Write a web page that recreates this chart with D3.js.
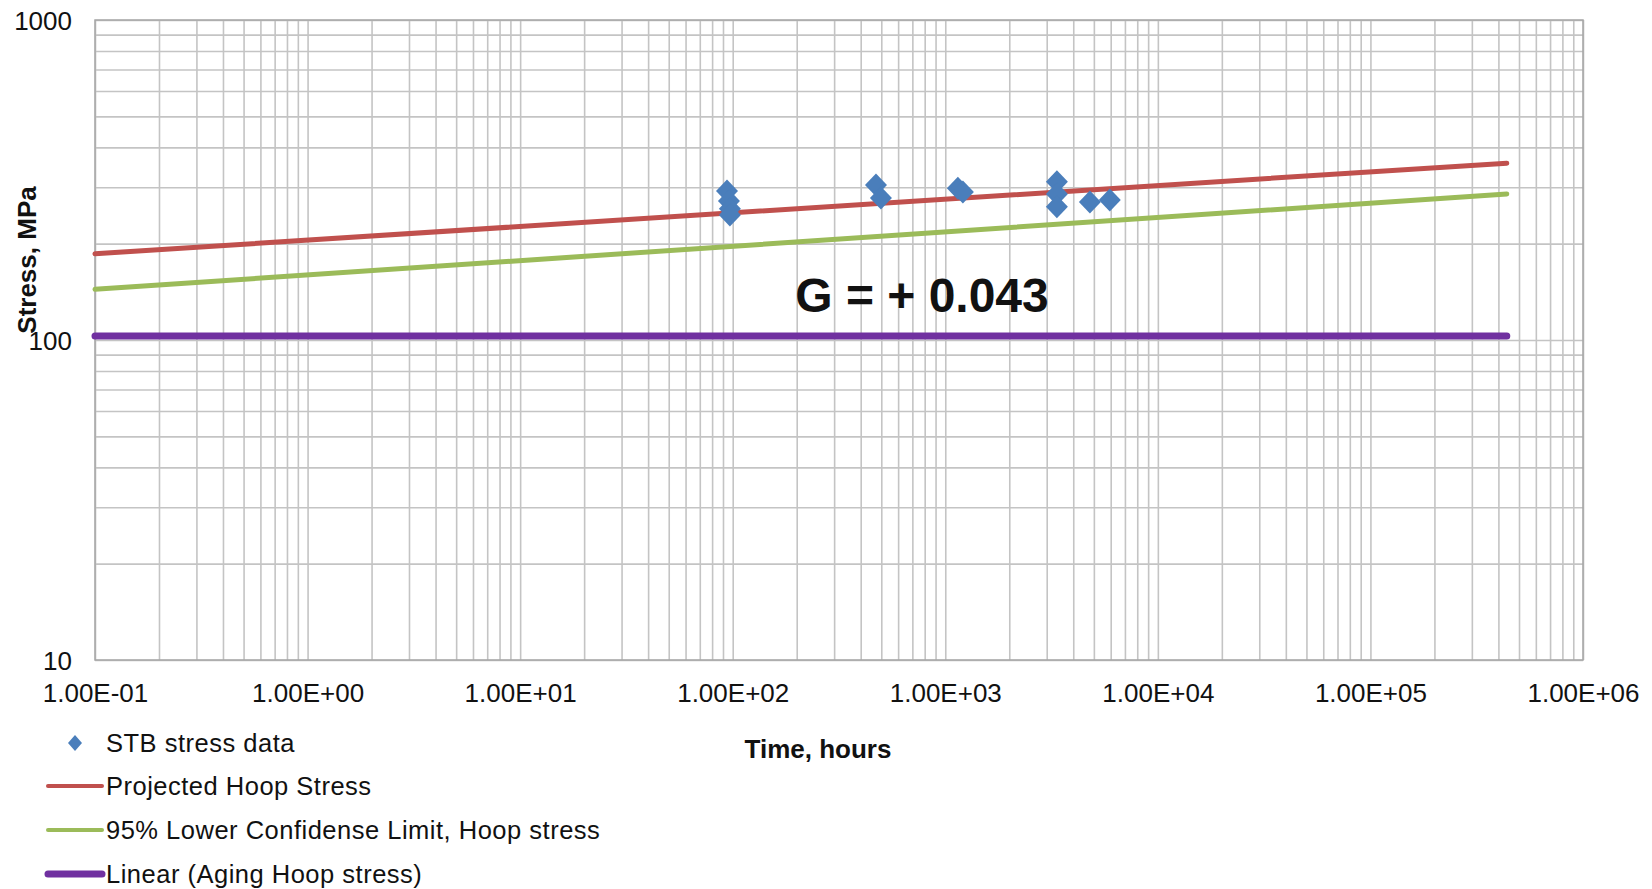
<!DOCTYPE html>
<html>
<head>
<meta charset="utf-8">
<script src="https://cdn.jsdelivr.net/npm/d3@7"></script>
<style>
  body { margin: 0; background: #fff; }
  text { font-family: "Liberation Sans", Arial, sans-serif; fill: #111; }
</style>
</head>
<body>
<div id="chart"></div>
<script>
// STB stress data (time in hours, stress in MPa)
const stbTime   = [94, 96, 97, 97, 472, 498, 1146, 1210, 3350, 3350, 3350, 4790, 5940];
const stbStress = [292, 272, 257, 246, 305, 278, 298, 290, 312, 286, 261, 270, 274];

// regression lines (start and end of each line)
const lineTime        = [0.1, 438000];
const projectedHoop   = [186, 357];
const lowerConfidence = [144, 286];
const agingHoop       = [103, 103];

const xTickValues = [1e-1, 1e0, 1e1, 1e2, 1e3, 1e4, 1e5, 1e6];
const yTickValues = [10, 100, 1000];
const legendLabels = [
  "STB stress data",
  "Projected Hoop Stress",
  "95% Lower Confidense Limit, Hoop stress",
  "Linear (Aging Hoop stress)"
];

const width = 1652, height = 889;
const margin = { top: 20, right: 69, bottom: 229, left: 95 };
const plotW = width - margin.left - margin.right;
const plotH = height - margin.top - margin.bottom;

const svg = d3.select("#chart").append("svg")
  .attr("width", width)
  .attr("height", height);

svg.append("rect").attr("width", width).attr("height", height).attr("fill", "#fff");

const x = d3.scaleLog().domain([1e-1, 1e6]).range([0, plotW]);
const y = d3.scaleLog().domain([10, 1000]).range([plotH, 0]);

const g = svg.append("g").attr("transform", `translate(${margin.left},${margin.top})`);

// minor + major grid values
const xGrid = [];
for (let e = -1; e < 6; e++) for (let m = 1; m <= 9; m++) xGrid.push(m * Math.pow(10, e));
xGrid.push(1e6);
const yGrid = [];
for (let e = 1; e < 3; e++) for (let m = 1; m <= 9; m++) yGrid.push(m * Math.pow(10, e));
yGrid.push(1000);

const gridColor = "#c4c4c4";

g.append("g")
  .attr("class", "grid-x")
  .call(d3.axisBottom(x).tickValues(xGrid).tickSize(-plotH).tickFormat(""))
  .attr("transform", `translate(0,${plotH})`)
  .call(a => a.select(".domain").remove())
  .selectAll("line").attr("stroke", gridColor).attr("stroke-width", 1.6);

g.append("g")
  .attr("class", "grid-y")
  .call(d3.axisLeft(y).tickValues(yGrid).tickSize(-plotW).tickFormat(""))
  .call(a => a.select(".domain").remove())
  .selectAll("line").attr("stroke", gridColor).attr("stroke-width", 1.6);

g.append("rect")
  .attr("width", plotW).attr("height", plotH)
  .attr("fill", "none").attr("stroke", "#a6a6a6").attr("stroke-width", 1.5);

// tick labels
const fmtExp = v => {
  const e = Math.round(Math.log10(v));
  const sign = e < 0 ? "-" : "+";
  return "1.00E" + sign + String(Math.abs(e)).padStart(2, "0");
};

g.append("g")
  .attr("transform", `translate(0,${plotH})`)
  .call(d3.axisBottom(x).tickValues(xTickValues).tickSize(0).tickPadding(0).tickFormat(fmtExp))
  .call(a => a.select(".domain").remove())
  .selectAll("text")
  .attr("dy", null)
  .attr("y", 42)
  .attr("font-size", 26)
  .attr("font-family", "'Liberation Sans', Arial, sans-serif")
  .attr("fill", "#111");

g.append("g")
  .call(d3.axisLeft(y).tickValues(yTickValues).tickSize(0).tickPadding(0).tickFormat(d3.format("d")))
  .call(a => a.select(".domain").remove())
  .selectAll("text")
  .attr("x", -23)
  .attr("dy", "0.35em")
  .attr("font-size", 26)
  .attr("font-family", "'Liberation Sans', Arial, sans-serif")
  .attr("fill", "#111");

// axis titles
svg.append("text")
  .attr("x", 818).attr("y", 758)
  .attr("text-anchor", "middle")
  .attr("font-size", 26).attr("font-weight", "bold")
  .text("Time, hours");

svg.append("text")
  .attr("transform", "translate(36,260) rotate(-90)")
  .attr("text-anchor", "middle")
  .attr("font-size", 26).attr("font-weight", "bold")
  .text("Stress, MPa");

// lines
const line = d3.line().x(d => x(d[0])).y(d => y(d[1]));
const series = [
  { values: projectedHoop, color: "#c0504d", w: 5 },
  { values: lowerConfidence, color: "#9bbb59", w: 5 },
  { values: agingHoop, color: "#7030a0", w: 7 }
];

g.selectAll(".series")
  .data(series)
  .enter()
  .append("path")
  .attr("class", "series")
  .attr("d", d => line(lineTime.map((t, i) => [t, d.values[i]])))
  .attr("fill", "none")
  .attr("stroke", d => d.color)
  .attr("stroke-width", d => d.w)
  .attr("stroke-linecap", "round");

// diamond markers
const diamond = (rx, ry) => `M0,${-ry}L${rx},0L0,${ry}L${-rx},0Z`;

g.selectAll(".stb")
  .data(stbTime.map((t, i) => ({ t, s: stbStress[i] })))
  .enter()
  .append("path")
  .attr("class", "stb")
  .attr("transform", d => `translate(${x(d.t)},${y(d.s)})`)
  .attr("d", diamond(11, 11.5))
  .attr("fill", "#4a7ebb");

// annotation
svg.append("text")
  .attr("x", 922).attr("y", 312)
  .attr("text-anchor", "middle")
  .attr("font-size", 48).attr("font-weight", "bold")
  .attr("fill", "#000")
  .text("G = + 0.043");

// legend
const legend = svg.append("g").attr("class", "legend");
const legendY = [743, 786, 830, 874];

legendLabels.forEach((label, i) => {
  const row = legend.append("g").attr("transform", `translate(0,${legendY[i]})`);
  if (i === 0) {
    row.append("path")
      .attr("transform", "translate(75,0)")
      .attr("d", diamond(7, 8))
      .attr("fill", "#4a7ebb");
  } else {
    const s = series[i - 1];
    row.append("line")
      .attr("x1", 48).attr("x2", 102)
      .attr("stroke", s.color)
      .attr("stroke-width", i === 3 ? 7 : 4)
      .attr("stroke-linecap", "round");
  }
  row.append("text")
    .attr("x", 106).attr("y", 0)
    .attr("dy", "0.36em")
    .attr("font-size", 25.5)
    .attr("letter-spacing", "0.5px")
    .text(label);
});
</script>
</body>
</html>
